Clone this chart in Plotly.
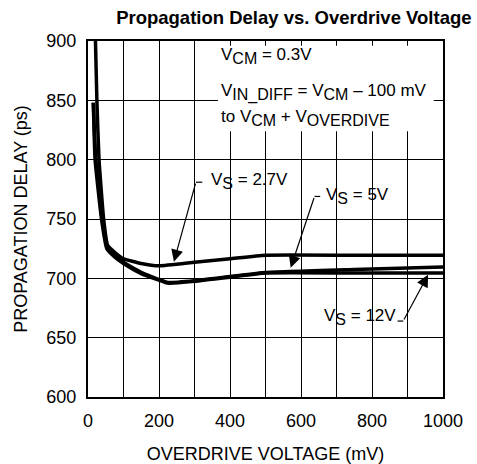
import plotly.graph_objects as go

# ---- data ----
x_27 = [21, 25, 31, 44, 55, 75, 100, 150, 200, 300, 400, 500, 750, 1000]
y_27 = [900, 850, 800, 750, 728, 722, 716.5, 712.5, 710.5, 713.5, 716.5, 719.5, 719.5, 719.5]

x_5 = [15, 22, 40, 55, 75, 100, 150, 200, 225, 300, 400, 500, 750, 1000]
y_5 = [848, 800, 750, 726, 719, 713.5, 705, 699, 696.5, 698, 701.5, 705, 707.5, 709.5]

x_12 = [15, 20, 38, 53, 75, 100, 150, 200, 225, 300, 400, 500, 750, 1000]
y_12 = [848, 800, 750, 725, 718, 712.5, 704, 698.5, 696, 697.5, 701, 704.5, 704.5, 704.5]

x_ticks = [0, 200, 400, 600, 800, 1000]
y_ticks = [600, 650, 700, 750, 800, 850, 900]

FONT = "Liberation Sans, Arial, sans-serif"


def sub(s, size=16):
    return f'<sub><span style="font-size:{size}px">{s}</span></sub>'


fig = go.Figure()
for xs, ys in [(x_12, y_12), (x_5, y_5), (x_27, y_27)]:
    fig.add_trace(go.Scatter(x=xs, y=ys, mode="lines",
                             line=dict(color="black", width=3.5, shape="spline", smoothing=0.4),
                             showlegend=False, hoverinfo="skip"))

# white box behind the conditions text
fig.add_shape(type="rect", x0=366, x1=974, y0=824, y1=896, xref="x", yref="y",
              fillcolor="white", line=dict(width=0), layer="above")

# condition texts
cond_lines = [
    ("V" + sub("CM") + " = 0.3V", 887),
    ("V" + sub("IN_DIFF") + " = V" + sub("CM") + " – 100 mV", 857),
    ("to V" + sub("CM") + " + V" + sub("OVERDIVE"), 835),
]
for txt, yy in cond_lines:
    fig.add_annotation(x=370, y=yy, xref="x", yref="y", text=txt, showarrow=False,
                       xanchor="left", yanchor="middle",
                       font=dict(family=FONT, size=17, color="black"))

# series labels with leader lines
labels = [
    # text, text x, text y, anchor, tick x0, tick x1, tail, tip
    ("V" + sub("S") + " = 2.7V", 342, 782, "left", 304, 322, (304, 781), (242, 714)),
    ("V" + sub("S") + " = 5V", 666, 769, "left", 638, 654, (638, 769), (571, 709)),
    ("V" + sub("S") + " = 12V", 873, 667, "right", 872, 888, (888, 664), (958, 703)),
]
for txt, tx, ty, anc, k0, k1, tail, tip in labels:
    fig.add_annotation(x=tx, y=ty, xref="x", yref="y", text=txt, showarrow=False,
                       xanchor=anc, yanchor="middle",
                       font=dict(family=FONT, size=17, color="black"))
    fig.add_shape(type="line", x0=k0, x1=k1, y0=tail[1], y1=tail[1], xref="x", yref="y",
                  line=dict(color="black", width=1.2))
    fig.add_annotation(x=tip[0], y=tip[1], ax=tail[0], ay=tail[1], xref="x", yref="y",
                       axref="x", ayref="y", text="", showarrow=True,
                       arrowhead=2, arrowsize=2, arrowwidth=1.2, arrowcolor="black")

axis_common = dict(showgrid=True, gridcolor="black", gridwidth=1,
                   showline=True, linecolor="black", linewidth=2, mirror=True,
                   zeroline=False, ticks="", color="black", automargin=False,
                   tickfont=dict(family=FONT, size=18, color="black"))

fig.update_xaxes(range=[0, 1000], tickvals=x_ticks, ticktext=[str(v) for v in x_ticks],
                 minor=dict(dtick=100, showgrid=True, gridcolor="black", gridwidth=1, ticks=""),
                 ticklabelstandoff=6,
                 title=dict(text="OVERDRIVE VOLTAGE (mV)", standoff=19,
                            font=dict(family=FONT, size=18, color="black")),
                 **axis_common)
fig.update_yaxes(range=[600, 900], tickvals=y_ticks, ticktext=[str(v) for v in y_ticks],
                 ticklabelstandoff=6,
                 title=dict(text="PROPAGATION DELAY (ps)", standoff=14,
                            font=dict(family=FONT, size=18, color="black")),
                 **axis_common)

fig.update_layout(
    width=477, height=464,
    margin=dict(l=88, r=34, t=41, b=67),
    paper_bgcolor="white", plot_bgcolor="white",
    title=dict(text="<b>Propagation Delay vs. Overdrive Voltage</b>", x=0.616, xanchor="center",
               xref="container", y=0.963, yanchor="middle", yref="container",
               font=dict(family=FONT, size=18.5, color="black")),
    font=dict(family=FONT, color="black"),
)

fig.write_html("out.html", config={"displayModeBar": False},
               post_script="document.body.style.margin='0';")
